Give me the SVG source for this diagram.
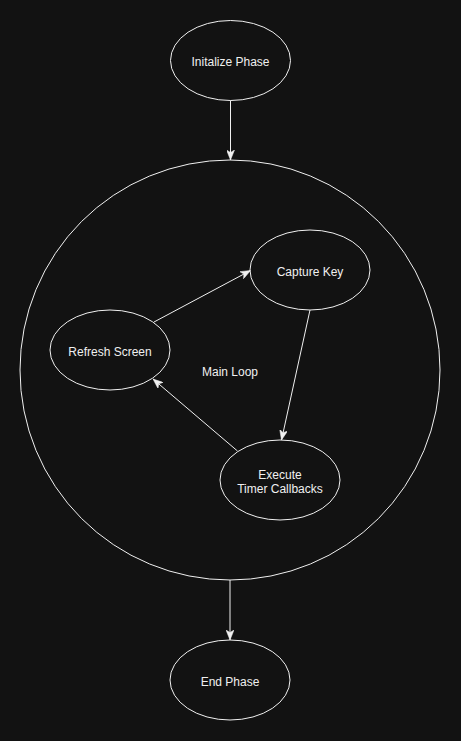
<svg xmlns="http://www.w3.org/2000/svg" width="461" height="741" viewBox="0 0 461 741">
<style>
.node{fill:none;stroke:#f0f0f0;stroke-width:1}
.lbl{font-family:"Liberation Sans",Arial,sans-serif;font-size:12px;fill:#f0f0f0;text-anchor:middle;dominant-baseline:central}
.edge{fill:none;stroke:#f0f0f0;stroke-width:1}
</style>
<defs>
<marker id="arr" markerUnits="userSpaceOnUse" viewBox="0 0 10 8" refX="10" refY="4" markerWidth="10" markerHeight="8" orient="auto">
<path d="M0,0 L10,4 L0,8 L2.5,4 Z" fill="#f0f0f0" stroke="#f0f0f0" stroke-width="0.5"/>
</marker>
</defs>
<rect width="461" height="741" fill="#121212"/>
<g id="main-loop">
<circle class="node" cx="230" cy="370" r="210"/>
<text class="lbl" x="230" y="372">Main Loop</text>
</g>
<g id="init">
<ellipse class="node" cx="230.5" cy="60.5" rx="60" ry="40"/>
<text class="lbl" x="230.5" y="62">Initalize Phase</text>
</g>
<g id="capture">
<ellipse class="node" cx="310" cy="270" rx="60" ry="40"/>
<text class="lbl" x="310" y="272">Capture Key</text>
</g>
<g id="refresh">
<ellipse class="node" cx="110" cy="350" rx="60" ry="40"/>
<text class="lbl" x="110" y="352">Refresh Screen</text>
</g>
<g id="execute">
<ellipse class="node" cx="280" cy="480" rx="60" ry="40"/>
<text class="lbl" x="280" y="475">Execute</text>
<text class="lbl" x="280" y="489">Timer Callbacks</text>
</g>
<g id="end">
<ellipse class="node" cx="230" cy="680" rx="60" ry="40"/>
<text class="lbl" x="230" y="682">End Phase</text>
</g>
<g id="connectors">
<line class="edge" x1="230.5" y1="100.5" x2="230.5" y2="160" marker-end="url(#arr)"/>
<line class="edge" x1="230" y1="580" x2="230" y2="640" marker-end="url(#arr)"/>
<line class="edge" x1="154" y1="322" x2="250.5" y2="270.5" marker-end="url(#arr)"/>
<line class="edge" x1="310" y1="310" x2="281.5" y2="440" marker-end="url(#arr)"/>
<line class="edge" x1="237.5" y1="451" x2="153" y2="379" marker-end="url(#arr)"/>
</g>
</svg>
